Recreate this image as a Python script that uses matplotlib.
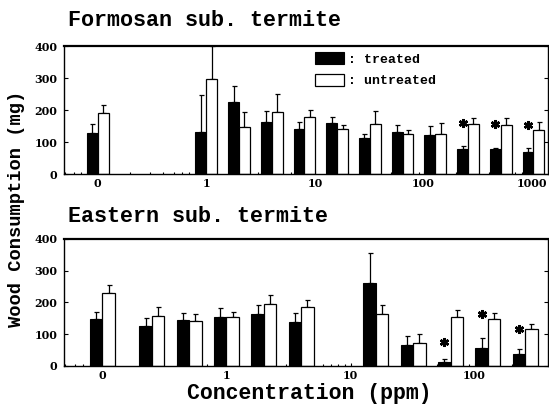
import numpy as np
import matplotlib

matplotlib.use("Agg")
import matplotlib.pyplot as plt
from matplotlib.ticker import FixedLocator, LogLocator, NullFormatter

MONO = "Liberation Mono"
SERIF = "DejaVu Serif"

# concentrations in ppm; the 0 ppm control is drawn one decade below 1
formosan_conc = [0, 1, 2, 4, 8, 16, 32, 64, 128, 256, 512, 1024]
formosan_treated = [127, 132, 226, 163, 142, 160, 114, 132, 122, 78, 77, 70]
formosan_treated_se = [28, 116, 50, 35, 21, 19, 11, 21, 28, 10, 5, 12]
formosan_untreated = [190, 296, 148, 193, 177, 140, 155, 124, 125, 155, 153, 139]
formosan_untreated_se = [25, 103, 47, 56, 23, 14, 41, 13, 33, 21, 23, 24]
formosan_signif = [None] * 9 + [160, 155, 153]

eastern_conc = [0, 0.25, 0.5, 1, 2, 4, 16, 32, 64, 128, 256]
eastern_treated = [149, 126, 144, 153, 164, 139, 260, 65, 11, 55, 36]
eastern_treated_se = [19, 26, 21, 28, 28, 28, 95, 30, 9, 31, 16]
eastern_untreated = [230, 157, 141, 155, 195, 184, 163, 71, 155, 149, 115]
eastern_untreated_se = [24, 29, 22, 13, 28, 23, 29, 28, 21, 18, 16]
eastern_signif = [None] * 8 + [76, 163, 116]

formosan_ticks = [0.1, 1, 10, 100, 1000]
formosan_ticklabels = ["0", "1", "10", "100", "1000"]
eastern_ticks = [0.1, 1, 10, 100]
eastern_ticklabels = ["0", "1", "10", "100"]

ZERO_AT = 0.1
STEP = 10 ** 0.1  # each bar is a tenth of a decade wide


def panel(ax, conc, tr, tr_se, un, un_se, signif, ticks, ticklabels, xmax):
    x = np.array([c if c > 0 else ZERO_AT for c in conc], dtype=float)
    hb = ax.bar(x / STEP, tr, width=x - x / STEP, align="edge",
                color="black", edgecolor="black", linewidth=0.8, zorder=2)
    hw = ax.bar(x, un, width=x * STEP - x, align="edge", color="white",
                edgecolor="black", linewidth=0.9, zorder=2)
    xb = x / 10 ** 0.05
    xw = x * 10 ** 0.05
    z = np.zeros(len(x))
    ax.errorbar(xb, tr, yerr=[z, tr_se], fmt="none", ecolor="black",
                elinewidth=0.9, capsize=1.8, capthick=0.9, zorder=1)
    ax.errorbar(xw, un, yerr=[z, un_se], fmt="none", ecolor="black",
                elinewidth=0.9, capsize=1.8, capthick=0.9, zorder=1)
    for xi, s in zip(xb, signif):
        if s is not None:
            ax.plot([xi], [s], marker=(6, 2, 0), ms=6.5, mew=1.8,
                    color="black", zorder=3)

    ax.set_xscale("log")
    ax.set_xlim(0.049, xmax)
    ax.set_ylim(0, 400)
    ax.xaxis.set_major_locator(FixedLocator(ticks))
    ax.set_xticklabels(ticklabels)
    ax.xaxis.set_minor_locator(LogLocator(base=10, subs=np.arange(2, 10)))
    ax.xaxis.set_minor_formatter(NullFormatter())
    ax.set_yticks([0, 100, 200, 300, 400])
    ax.tick_params(axis="x", which="major", direction="in", length=2.5,
                   width=0.8, pad=3, labelsize=8)
    ax.tick_params(axis="x", which="minor", direction="in", length=1.8,
                   width=0.8)
    ax.tick_params(axis="y", direction="in", length=3, width=0.8,
                   right=True, pad=5, labelsize=8)
    for lbl in ax.get_xticklabels() + ax.get_yticklabels():
        lbl.set_family(SERIF)
        lbl.set_fontweight("bold")
    for s in ax.spines.values():
        s.set_linewidth(1.0)
    ax.spines["top"].set_linewidth(1.6)
    return hb, hw


fig = plt.figure(figsize=(5.49, 4.16), dpi=100)
ax1 = fig.add_axes([0.1166, 0.5817, 0.8816, 0.3077])
ax2 = fig.add_axes([0.1166, 0.1209, 0.8816, 0.3046])

hb, hw = panel(ax1, formosan_conc, formosan_treated, formosan_treated_se,
               formosan_untreated, formosan_untreated_se, formosan_signif,
               formosan_ticks, formosan_ticklabels, 1396)
panel(ax2, eastern_conc, eastern_treated, eastern_treated_se,
      eastern_untreated, eastern_untreated_se, eastern_signif,
      eastern_ticks, eastern_ticklabels, 391)

ax1.legend([hb, hw], [": treated", ": untreated"], loc="upper left",
           bbox_to_anchor=(0.519, 0.953), borderaxespad=0, borderpad=0,
           frameon=False, handlelength=2.2, handleheight=1.06,
           labelspacing=0.6, handletextpad=0.25,
           prop={"family": MONO, "weight": "bold", "size": 9.5})

fig.text(68 / 549, 1 - 26 / 416, "Formosan sub. termite", family=MONO,
         fontweight="bold", fontsize=15.7, ha="left", va="baseline")
fig.text(68 / 549, 1 - 222 / 416, "Eastern sub. termite", family=MONO,
         fontweight="bold", fontsize=15.7, ha="left", va="baseline")
fig.text(309.5 / 549, 1 - 399 / 416, "Concentration (ppm)", family=MONO,
         fontweight="bold", fontsize=15.5, ha="center", va="baseline")
fig.text(17 / 549, 1 - 209 / 416, "Wood Consumption (mg)", family=MONO,
         fontweight="bold", fontsize=13.5, ha="center", va="center",
         rotation=90)

fig.savefig("out.png", dpi=100, facecolor="white")
